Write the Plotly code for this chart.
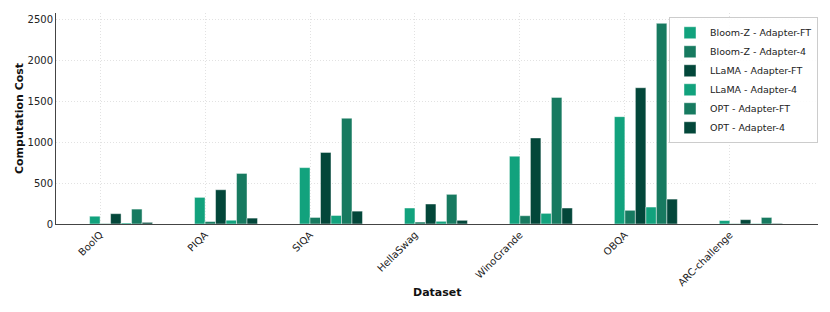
import plotly.graph_objects as go

datasets = ["BoolQ", "PIQA", "SIQA", "HellaSwag", "WinoGrande", "OBQA", "ARC-challenge"]

bloom_ft = [95, 325, 688, 195, 827, 1310, 42]
bloom_4 = [6, 30, 80, 24, 101, 167, 4]
llama_ft = [126, 418, 873, 244, 1050, 1663, 53]
llama_4 = [12, 46, 104, 33, 130, 207, 5]
opt_ft = [182, 617, 1291, 362, 1545, 2449, 80]
opt_4 = [20, 72, 157, 45, 195, 304, 7]

series_names = ["Bloom-Z - Adapter-FT", "Bloom-Z - Adapter-4", "LLaMA - Adapter-FT",
                "LLaMA - Adapter-4", "OPT - Adapter-FT", "OPT - Adapter-4"]
series_values = [bloom_ft, bloom_4, llama_ft, llama_4, opt_ft, opt_4]
colors = ["#12a27d", "#177a60", "#03473a", "#12a27d", "#177a60", "#03473a"]
offsets = [-0.1, 0.0, 0.1, 0.2, 0.3, 0.4]

x_idx = list(range(len(datasets)))

fig = go.Figure()
for name, vals, col, off in zip(series_names, series_values, colors, offsets):
    fig.add_trace(go.Bar(
        x=x_idx, y=vals, name=name, width=0.1, offset=off,
        marker=dict(color=col, line=dict(color="rgba(255,255,255,0.45)", width=1)),
    ))

font_family = "DejaVu Sans"
fig.update_layout(
    width=830, height=312,
    margin=dict(l=48, r=20, t=5, b=96),
    barmode="overlay",
    plot_bgcolor="white", paper_bgcolor="white",
    font=dict(family=font_family, size=10, color="#222"),
    showlegend=True,
    legend=dict(x=1, y=0.98, xanchor="right", yanchor="top",
                bgcolor="rgba(255,255,255,0.9)", bordercolor="#cccccc", borderwidth=1,
                font=dict(size=9.5, color="#222"), tracegroupgap=0, itemwidth=30),
    xaxis=dict(
        range=[-0.42, 6.84], tickmode="array", tickvals=x_idx, ticktext=datasets,
        tickangle=-45, showgrid=True, gridcolor="#e2e2e2", griddash="1px,2px", gridwidth=1,
        showline=True, linecolor="#444", linewidth=1, ticks="", zeroline=False,
        automargin=False,
        tickfont=dict(size=10, color="#222"),
    ),
    yaxis=dict(
        range=[0, 2575], tickvals=[0, 500, 1000, 1500, 2000, 2500],
        showgrid=True, gridcolor="#e2e2e2", griddash="1px,2px", gridwidth=1,
        showline=True, linecolor="#444", linewidth=1, ticks="", zeroline=False,
        automargin=False,
        title=dict(text="<b>Computation Cost</b>", font=dict(size=11, color="#111"), standoff=1),
        tickfont=dict(size=10, color="#222"),
    ),
    annotations=[dict(text="<b>Dataset</b>", xref="paper", yref="paper", x=0.5, y=-0.327,
                      xanchor="center", yanchor="middle", showarrow=False,
                      font=dict(size=11, color="#111"))],
)

fig.write_html("out.html")
